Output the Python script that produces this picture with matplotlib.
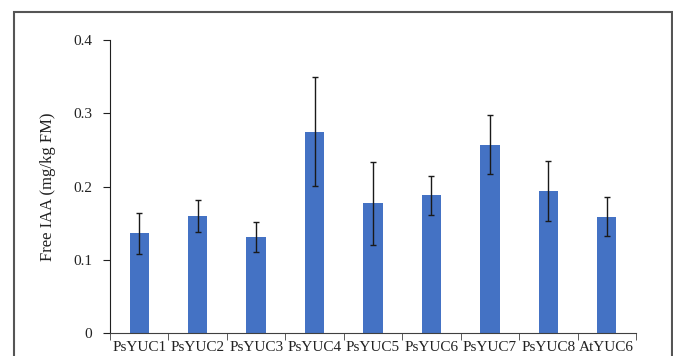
import matplotlib.pyplot as plt
from matplotlib.patches import Rectangle

# data
genes = ["PsYUC1", "PsYUC2", "PsYUC3", "PsYUC4", "PsYUC5",
         "PsYUC6", "PsYUC7", "PsYUC8", "AtYUC6"]
iaa = [0.136, 0.160, 0.131, 0.275, 0.177, 0.188, 0.257, 0.194, 0.159]
err = [0.028, 0.022, 0.021, 0.074, 0.057, 0.027, 0.040, 0.041, 0.026]
yticks = [0, 0.1, 0.2, 0.3, 0.4]

plt.rcParams['font.family'] = ['Liberation Serif', 'DejaVu Serif']

fig = plt.figure(figsize=(6.73, 3.56), dpi=100)
ax = fig.add_axes([110 / 673, 23 / 356, 526 / 673, 293 / 356])

x = list(range(len(genes)))
ax.bar(x, iaa, width=0.33, color="#4472C4", zorder=2)
ax.errorbar(x, iaa, yerr=err, fmt="none", ecolor="#1a1a1a",
            elinewidth=1.0, capsize=2.5, capthick=1.0, zorder=3)

ax.set_xlim(-0.5, len(genes) - 0.5)
ax.set_ylim(0, 0.4)
ax.set_yticks(yticks)
ax.set_yticklabels(["0", "0.1", "0.2", "0.3", "0.4"])
ax.set_xticks(x)
ax.set_xticklabels(genes)
ax.set_xticks([i + 0.5 for i in range(-1, len(genes))], minor=True)
ax.tick_params(axis="x", which="major", length=0, labelsize=11, pad=6,
               labelcolor="#222222")
ax.tick_params(axis="x", which="minor", length=5, direction="out", color="#404040")
ax.tick_params(axis="y", length=5, direction="out", labelsize=11, pad=8,
               color="#202020", labelcolor="#222222")

ax.spines["top"].set_visible(False)
ax.spines["right"].set_visible(False)
ax.spines["left"].set_color("#202020")
ax.spines["bottom"].set_color("#404040")
ax.set_ylabel("Free IAA (mg/kg FM)", fontsize=12, labelpad=12, color="#222222")

# outer frame of the picture
fig.patches.append(Rectangle((14 / 673, -0.1), (671.5 - 14) / 673, 1.1 - 12 / 356,
                             transform=fig.transFigure, fill=False,
                             edgecolor="#555555", linewidth=1.5, clip_on=False))

fig.savefig("out.png", dpi=100)
